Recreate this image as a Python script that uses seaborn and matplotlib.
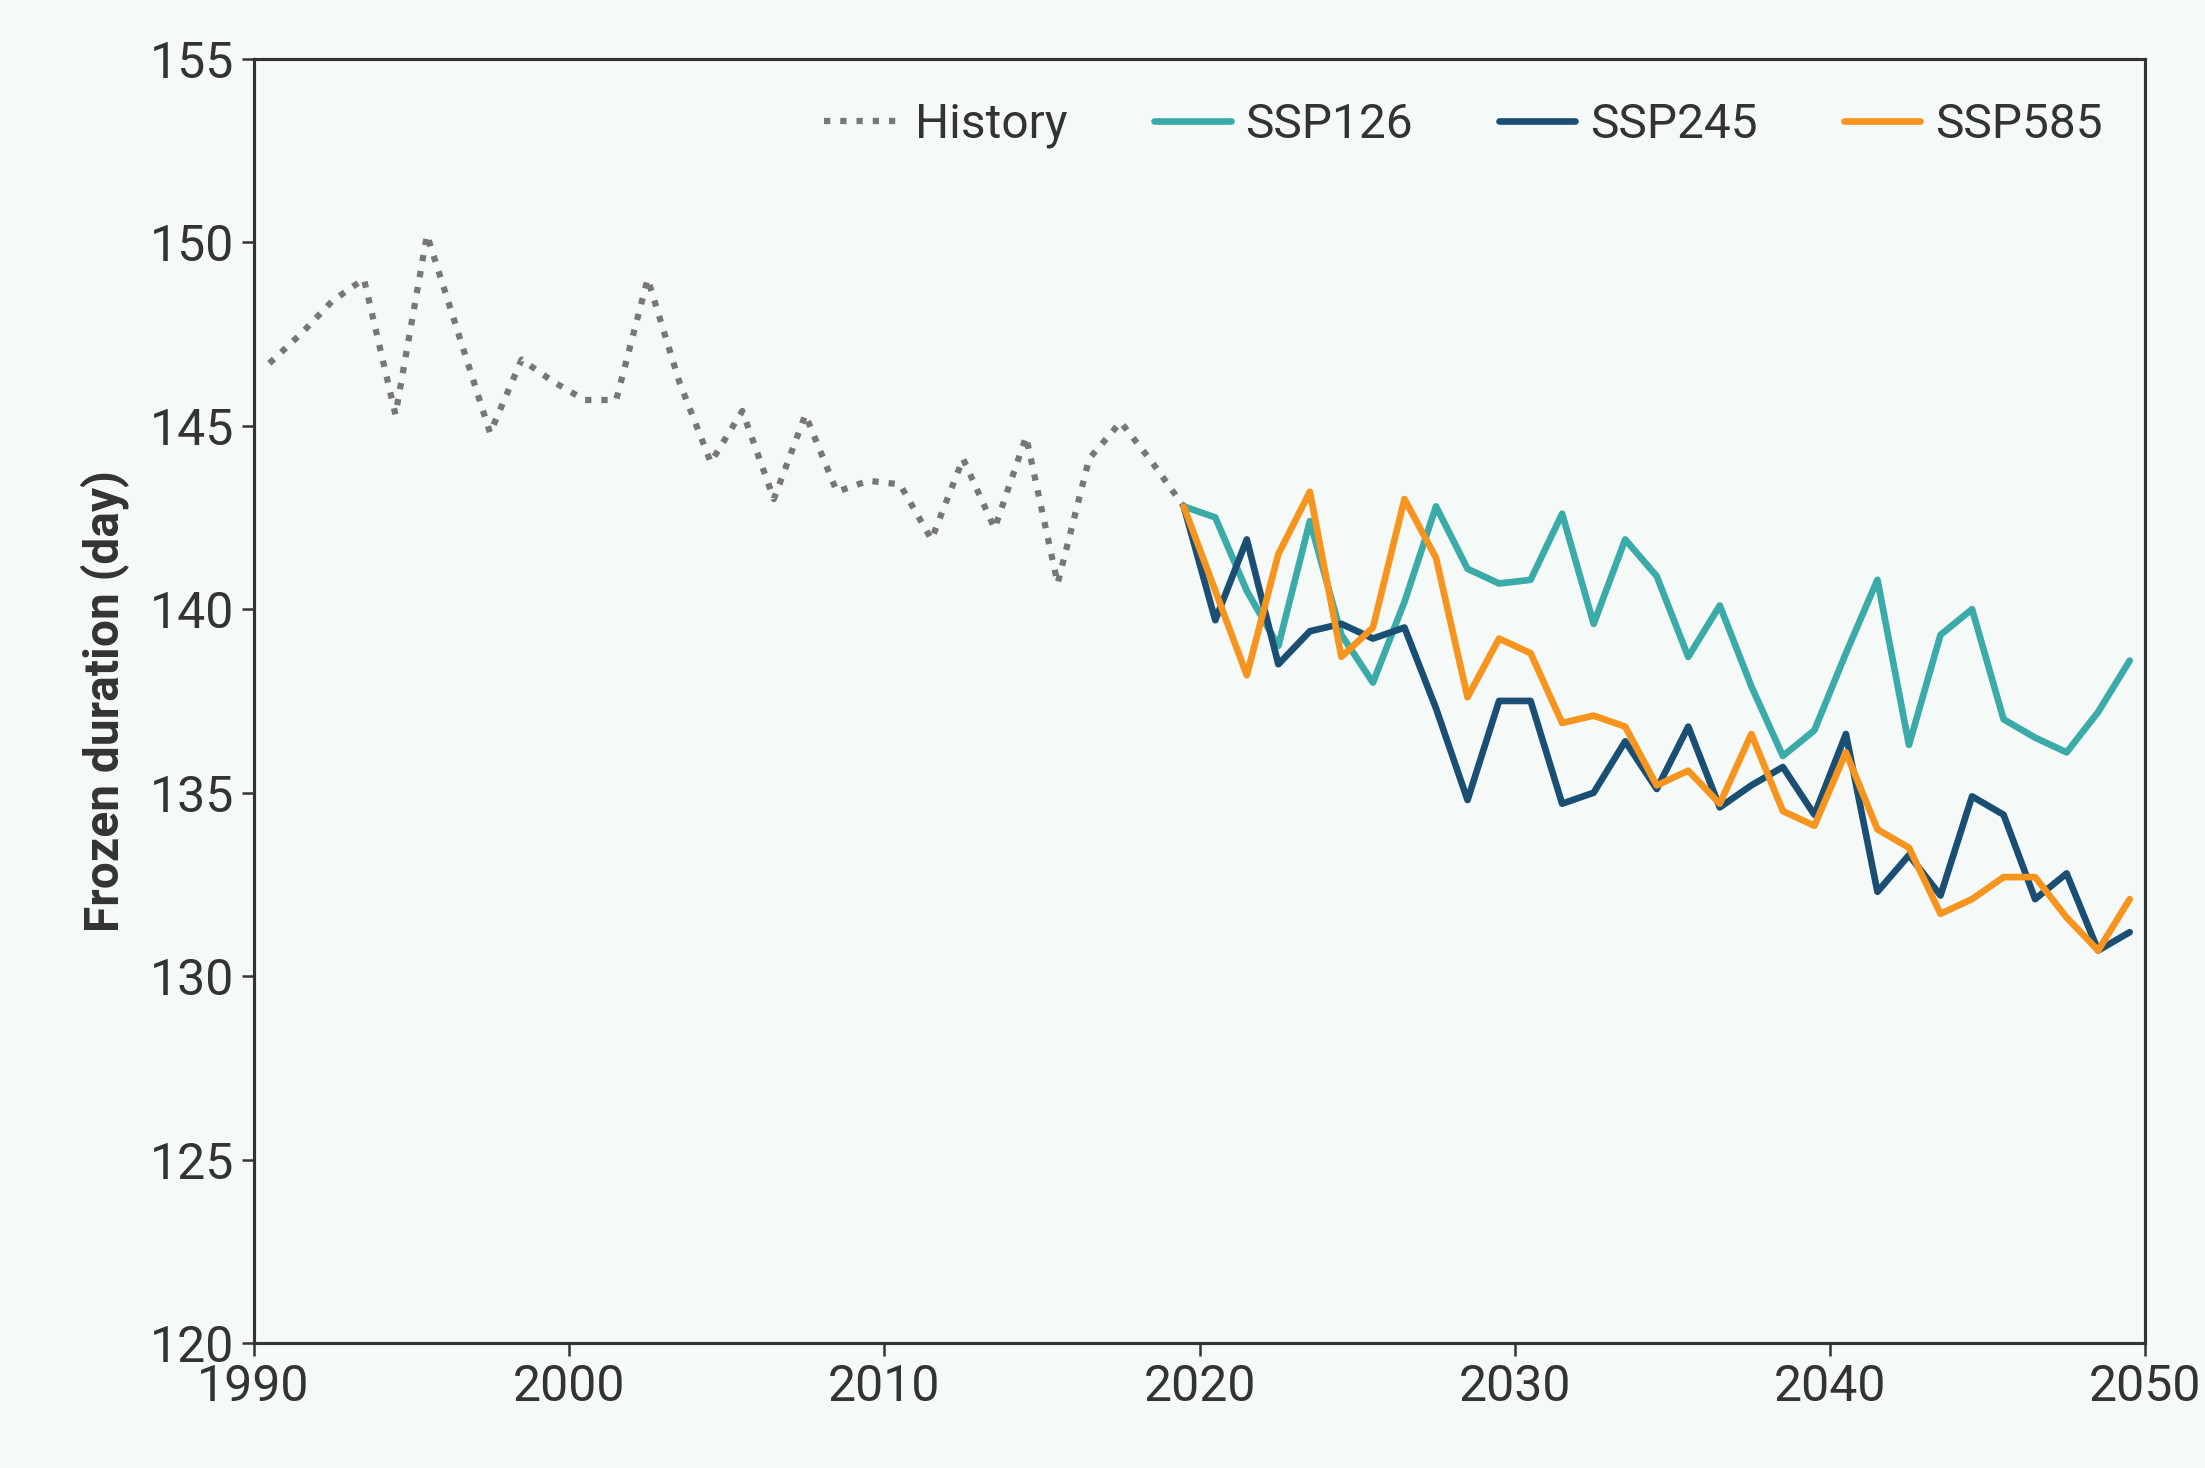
import numpy as np
import pandas as pd
import matplotlib
matplotlib.use("Agg")
import matplotlib.pyplot as plt
import seaborn as sns

# data (x = year + 0.5)
hist_years = np.arange(1990, 2020) + 0.5
hist = [146.7, 147.5, 148.4, 149.0, 145.3, 150.2, 147.5, 144.8, 146.8, 146.2,
        145.7, 145.7, 149.0, 146.2, 144.0, 145.4, 143.0, 145.3, 143.2, 143.5,
        143.4, 141.9, 144.1, 142.2, 144.7, 140.7, 144.1, 145.1, 144.0, 142.8]

proj_years = np.arange(2019, 2050) + 0.5
ssp126 = [142.8, 142.5, 140.5, 139.0, 142.4, 139.3, 138.0, 140.2, 142.8, 141.1,
          140.7, 140.8, 142.6, 139.6, 141.9, 140.9, 138.7, 140.1, 137.9, 136.0,
          136.7, 138.8, 140.8, 136.3, 139.3, 140.0, 137.0, 136.5, 136.1, 137.2, 138.6]
ssp245 = [142.8, 139.7, 141.9, 138.5, 139.4, 139.6, 139.2, 139.5, 137.3, 134.8,
          137.5, 137.5, 134.7, 135.0, 136.4, 135.1, 136.8, 134.6, 135.2, 135.7,
          134.4, 136.6, 132.3, 133.3, 132.2, 134.9, 134.4, 132.1, 132.8, 130.7, 131.2]
ssp585 = [142.8, 140.5, 138.2, 141.5, 143.2, 138.7, 139.5, 143.0, 141.4, 137.6,
          139.2, 138.8, 136.9, 137.1, 136.8, 135.2, 135.6, 134.7, 136.6, 134.5,
          134.1, 136.1, 134.0, 133.5, 131.7, 132.1, 132.7, 132.7, 131.6, 130.7, 132.1]

bg = "#f5f9f7"
sns.set_style("ticks", {"axes.facecolor": bg, "figure.facecolor": bg,
                        "axes.edgecolor": "#333333"})
plt.rcParams["font.family"] = ["Roboto", "DejaVu Sans"]

fig = plt.figure(figsize=(14.7, 9.787), dpi=150)
ax = fig.add_axes([0.115, 0.085, 0.858, 0.875])

df_hist = pd.DataFrame({"year": hist_years, "value": hist})
sns.lineplot(data=df_hist, x="year", y="value", ax=ax, color="#777777",
             linestyle=(0, (1, 1.6)), linewidth=3, label="History")
series = [("SSP126", ssp126, "#3aaba9"), ("SSP245", ssp245, "#1a4f73"),
          ("SSP585", ssp585, "#f7941d")]
for name, vals, col in series:
    d = pd.DataFrame({"year": proj_years, "value": vals})
    sns.lineplot(data=d, x="year", y="value", ax=ax, color=col, linewidth=3.2,
                 label=name)

ax.set_xlim(1990, 2050)
ax.set_ylim(120, 155)
ax.set_xticks(range(1990, 2051, 10))
ax.set_yticks(range(120, 156, 5))
ax.tick_params(labelsize=24, colors="#333333", length=6, width=1.2)
ax.set_xlabel("")
ax.set_ylabel("Frozen duration (day)", fontsize=23, fontweight="bold",
              color="#333333", labelpad=10)
for s in ax.spines.values():
    s.set_linewidth(1.5)

leg = ax.legend(loc="upper right", ncol=4, frameon=False, fontsize=23,
                handlelength=1.6, handletextpad=0.3, columnspacing=1.8)
for t in leg.get_texts():
    t.set_color("#333333")

fig.savefig("out.png", dpi=150, facecolor=bg)
